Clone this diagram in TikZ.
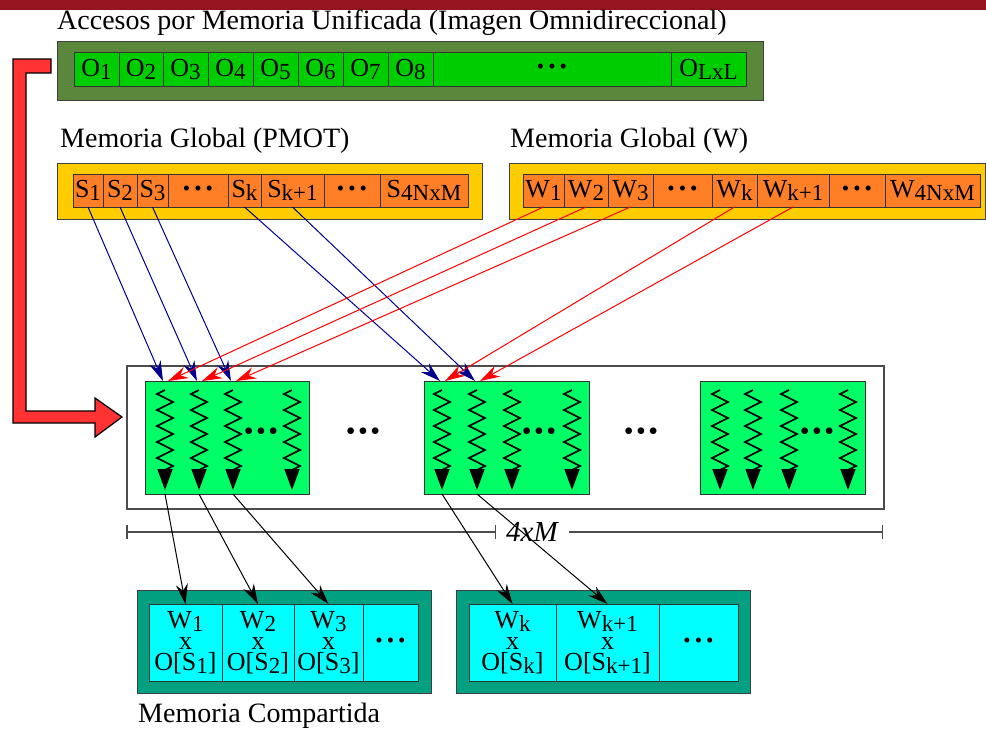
\documentclass[tikz,border=0pt]{standalone}
\usepackage{fontspec}
\setmainfont{Liberation Serif}
\usetikzlibrary{positioning,arrows.meta,decorations.pathmorphing}

\definecolor{bandred}{RGB}{150,20,32}
\definecolor{oliveg}{RGB}{90,135,60}
\definecolor{ogreen}{RGB}{0,205,0}
\definecolor{gyellow}{RGB}{255,204,0}
\definecolor{gorange}{RGB}{255,127,39}
\definecolor{tgreen}{RGB}{0,255,102}
\definecolor{steal}{RGB}{0,160,128}
\definecolor{scyan}{RGB}{0,255,255}
\definecolor{bigred}{RGB}{255,51,51}
\definecolor{sblue}{RGB}{0,0,140}

\newcommand\lo[1]{\raisebox{-3pt}{\fontsize{23}{23}\selectfont #1}}
\newcommand\celldots{{\fontsize{21}{21}\selectfont •\hspace{4pt}•\hspace{4pt}•}}
\newcommand\bigdots{{\fontsize{28}{28}\selectfont •\hspace{2.5pt}•\hspace{2.5pt}•}}

\begin{document}
\begin{tikzpicture}[x=1pt,y=-1pt,
  lbl/.style={anchor=base west,inner sep=0pt,font=\fontsize{28}{30}\selectfont},
  outer/.style={draw=black!75,line width=1pt,anchor=north west,inner sep=0pt},
  cell/.style={draw=black!80,line width=0.8pt,inner sep=0pt,outer sep=0pt,
    font=\fontsize{26}{21}\selectfont},
  ocell/.style={cell,fill=ogreen,minimum height=34pt},
  gcell/.style={cell,fill=gorange,minimum height=33pt},
  mcell/.style={cell,fill=scyan,minimum height=77pt,align=center},
  block/.style={draw=black!80,line width=1pt,fill=tgreen,anchor=north west,
    minimum height=113pt,inner sep=0pt},
  thread/.style={line width=1.6pt,-{Triangle[length=21pt,width=15pt]},
    decoration={zigzag,mirror,segment length=16pt,amplitude=8pt}},
  bline/.style={sblue,line width=1pt,-{Stealth[length=20pt,width=12pt]}},
  rline/.style={red,line width=1pt,-{Stealth[length=20pt,width=12pt]}},
  kline/.style={black,line width=1pt,-{Stealth[length=20pt,width=12pt]}},
  dimline/.style={draw=black!70,line width=1.5pt,{Bar[width=14pt]}-{Bar[width=14pt]}}]
\useasboundingbox (0,0) rectangle (986,732);

% header band
\fill[bandred] (0,0) rectangle (986,10);

% labels
\node[lbl] (ttl) at (57,29) {Accesos por Memoria Unificada (Imagen Omnidireccional)};
\node[lbl] (pmotlbl) at (60,147) {Memoria Global (PMOT)};
\node[lbl] (wlbl) at (510,147) {Memoria Global (W)};
\node[lbl] (shmlbl) at (138,722) {Memoria Compartida};

% unified memory
\node[outer,fill=oliveg,minimum width=706pt,minimum height=59pt] (obox) at (57,41) {};
\node[ocell,minimum width=45pt,anchor=north west] (o1) at (74,52) {O\lo{1}};
\node[ocell,minimum width=44pt,right=0pt of o1] (o2) {O\lo{2}};
\node[ocell,minimum width=45pt,right=0pt of o2] (o3) {O\lo{3}};
\node[ocell,minimum width=45pt,right=0pt of o3] (o4) {O\lo{4}};
\node[ocell,minimum width=45pt,right=0pt of o4] (o5) {O\lo{5}};
\node[ocell,minimum width=45pt,right=0pt of o5] (o6) {O\lo{6}};
\node[ocell,minimum width=45pt,right=0pt of o6] (o7) {O\lo{7}};
\node[ocell,minimum width=45pt,right=0pt of o7] (o8) {O\lo{8}};
\node[ocell,minimum width=238pt,right=0pt of o8] (odots) {\celldots};
\node[ocell,minimum width=75pt,right=0pt of odots] (oll) {O\lo{LxL}};

% global memory PMOT
\node[outer,fill=gyellow,minimum width=425pt,minimum height=56pt] (sbox) at (57,163) {};
\node[gcell,minimum width=30pt,anchor=north west] (s1) at (73,174) {S\lo{1}};
\node[gcell,minimum width=34pt,right=0pt of s1] (s2) {S\lo{2}};
\node[gcell,minimum width=31pt,right=0pt of s2] (s3) {S\lo{3}};
\node[gcell,minimum width=60pt,right=0pt of s3] (sd1) {\celldots};
\node[gcell,minimum width=33pt,right=0pt of sd1] (sk) {S\lo{k}};
\node[gcell,minimum width=63pt,right=0pt of sk] (sk1) {S\lo{k+1}};
\node[gcell,minimum width=56pt,right=0pt of sk1] (sd2) {\celldots};
\node[gcell,minimum width=88pt,right=0pt of sd2] (sn) {S\lo{4NxM}};

% global memory W
\node[outer,fill=gyellow,minimum width=476pt,minimum height=56pt] (wbox) at (509,163) {};
\node[gcell,minimum width=41pt,anchor=north west] (w1) at (523,174) {W\lo{1}};
\node[gcell,minimum width=44pt,right=0pt of w1] (w2) {W\lo{2}};
\node[gcell,minimum width=45pt,right=0pt of w2] (w3) {W\lo{3}};
\node[gcell,minimum width=59pt,right=0pt of w3] (wd1) {\celldots};
\node[gcell,minimum width=45pt,right=0pt of wd1] (wk) {W\lo{k}};
\node[gcell,minimum width=72pt,right=0pt of wk] (wk1) {W\lo{k+1}};
\node[gcell,minimum width=56pt,right=0pt of wk1] (wd2) {\celldots};
\node[gcell,minimum width=95pt,right=0pt of wd2] (wn) {W\lo{4NxM}};

% big red arrow
\filldraw[fill=bigred,draw=black,line width=1.2pt]
  (51,59) -- (13,59) -- (13,423) -- (95,423) -- (95,437) -- (122,417)
  -- (95,398) -- (95,411) -- (26,411) -- (26,73) -- (51,73) -- cycle;

% thread blocks
\node[outer,fill=white,draw=black!70,line width=1.5pt,minimum width=757pt,
  minimum height=143pt] (tbox) at (126,365) {};
\node[block,minimum width=164pt] (blk1) at (145,381) {};
\node[block,minimum width=165pt] (blk2) at (424,381) {};
\node[block,minimum width=165pt] (blk3) at (700,381) {};
\foreach \x/\n in {165/p1,199/p2,233/p3,292/p4,442/q1,477/q2,512/q3,572/q4,
                   720/r1,753/r2,789/r3,848/r4}{
  \coordinate (\n) at (\x,381);
  \coordinate (\n b) at (\x,494);
  \draw[thread] (\x,390) decorate{-- (\x,470)} -- (\x,490);
}
\node (dots1) at (261,434) {\bigdots};
\node (dots2) at (363,434) {\bigdots};
\node (dots3) at (539,434) {\bigdots};
\node (dots4) at (641,434) {\bigdots};
\node (dots5) at (817,434) {\bigdots};

% dimension
\coordinate (dl) at (126,532);
\coordinate (dr) at (883,532);
\node[fill=white,inner xsep=10pt,inner ysep=2pt,font=\fontsize{29}{30}\selectfont\itshape]
  (dimlbl) at (532,532) {4xM};
\draw[dimline] (dl) -- (dimlbl.west);
\draw[dimline,{Bar[width=0pt]}-{Bar[width=14pt]}] (dimlbl.east) -- (dr);

% shared memory
\node[outer,fill=steal,minimum width=294pt,minimum height=103pt] (mbox1) at (137,590) {};
\node[mcell,minimum width=73pt,anchor=north west] (m1) at (149,604) {W\lo{1}\\x\\O[S\lo{1}]};
\node[mcell,minimum width=72pt,right=0pt of m1] (m2) {W\lo{2}\\x\\O[S\lo{2}]};
\node[mcell,minimum width=69pt,right=0pt of m2] (m3) {W\lo{3}\\x\\O[S\lo{3}]};
\node[mcell,minimum width=55pt,right=0pt of m3] (md1) {\celldots};
\node[outer,fill=steal,minimum width=294pt,minimum height=103pt] (mbox2) at (456,590) {};
\node[mcell,minimum width=87pt,anchor=north west] (mk) at (469,604) {W\lo{k}\\x\\O[S\lo{k}]};
\node[mcell,minimum width=103pt,right=0pt of mk] (mk1) {W\lo{k+1}\\x\\O[S\lo{k+1}]};
\node[mcell,minimum width=79pt,right=0pt of mk1] (md2) {\celldots};

% connectors
\path[bline]
  (s1.south) edge ([xshift=-2pt]p1)
  (s2.south) edge ([xshift=-2pt]p2)
  (s3.south) edge ([xshift=-2pt]p3)
  (sk.south) edge ([xshift=-2pt]q1)
  (sk1.south) edge ([xshift=-2pt]q2);
\path[rline]
  (w1.south) edge ([xshift=3pt]p1)
  (w2.south) edge ([xshift=3pt]p2)
  (w3.south) edge ([xshift=3pt]p3)
  (wk.south) edge ([xshift=3pt]q1)
  (wk1.south) edge ([xshift=3pt]q2);
\path[kline]
  (p1b) edge (m1.north)
  (p2b) edge (m2.north)
  (p3b) edge (m3.north)
  (q1b) edge (mk.north)
  (q2b) edge (mk1.north);
\end{tikzpicture}
\end{document}
